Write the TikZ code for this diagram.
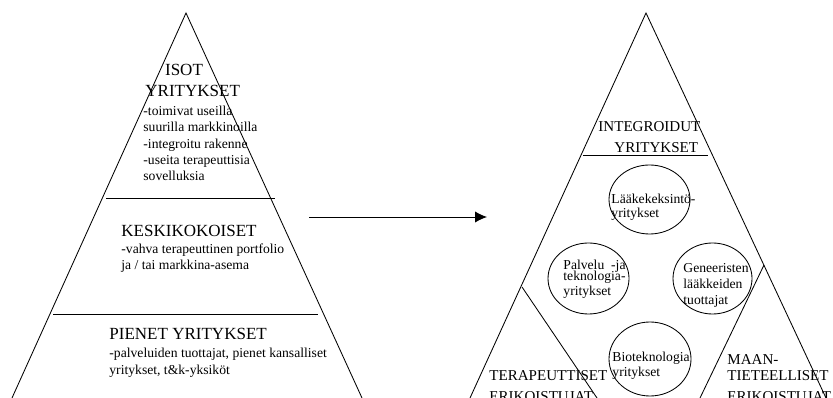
\documentclass[tikz,border=0pt]{standalone}
\usepackage{fontspec}
\setmainfont{Liberation Serif}
\usetikzlibrary{arrows.meta}

\tikzset{
  bigtitle/.style={font=\fontsize{12.1}{15}\selectfont,align=left,anchor=base west,inner sep=0pt},
  title/.style={font=\fontsize{10.7}{15}\selectfont,align=left,anchor=base west,inner sep=0pt},
  desc/.style={font=\fontsize{9.7}{11.7}\selectfont,align=left,anchor=base west,inner sep=0pt},
}

\begin{document}
\begin{tikzpicture}[x=0.025cm,y=-0.025cm,line width=0.6pt]
\clip (0,0) rectangle (833,398);

% Left pyramid (company sizes)
\draw (12,398) -- (186,13) -- (362,398);
\draw (106,198) -- (275,198);
\draw (53,314) -- (318,314);

% multi-line texts are placed at the baseline of their last line
\node[bigtitle] (isot) at (145,97) {\hspace*{14pt}ISOT\\YRITYKSET};
\node[desc] (isotdesc) at (143,181) {-toimivat useilla\\suurilla markkinoilla\\-integroitu rakenne\\-useita terapeuttisia\\sovelluksia};

\node[bigtitle] (keski) at (121,237) {KESKIKOKOISET};
\node[desc] (keskidesc) at (121,270) {-vahva terapeuttinen portfolio\\ja / tai markkina-asema};

\node[bigtitle] (pienet) at (109,340) {PIENET YRITYKSET};
\node[desc] (pienetdesc) at (109,374) {-palveluiden tuottajat, pienet kansalliset\\yritykset, t\&k-yksiköt};

% Arrow between the pyramids
\coordinate (arrowstart) at (309,217);
\coordinate (arrowend) at (487,217);
\draw[-{Latex[length=3mm,width=2.8mm]}] (arrowstart) -- (arrowend);

% Right pyramid (new structure)
\draw (470,398) -- (646,13) -- (826,398);
\draw (583,155) -- (708,155);

% Corner triangles of the specialists
\draw (522,287) -- (597,398);
\draw (764,265) -- (700,398);

\node[title] (integ) at (598,153) {INTEGROIDUT\\[0.6pt]\hspace*{11.4pt}YRITYKSET};

% Company groups in the middle
\draw (649.5,199.5) ellipse [x radius=40.5, y radius=34.5];
\node[desc] (laake) at (611,218) {Lääkekeksintö-\\[-1.7pt]yritykset};

\draw (588.5,278.5) ellipse [x radius=40.5, y radius=35.5];
\node[desc] (palvelu) at (563,296) {Palvelu\ \ -ja\\[-3.6pt]teknologia-\\[-0.6pt]yritykset};

\draw (712.5,278.5) ellipse [x radius=39.5, y radius=35.5];
\node[desc] (geneer) at (683,305) {Geneeristen\\lääkkeiden\\tuottajat};

\draw (650,359) ellipse [x radius=41, y radius=37];
\node[desc] (bio) at (612,377) {Bioteknologia\\[-1pt]yritykset};

\node[title] (terap) at (489,402) {TERAPEUTTISET\\ERIKOISTUJAT};
\node[title] (maan) at (727,402) {MAAN-\\[-3.6pt]TIETEELLISET\\[0.6pt]ERIKOISTUJAT};

\end{tikzpicture}
\end{document}
